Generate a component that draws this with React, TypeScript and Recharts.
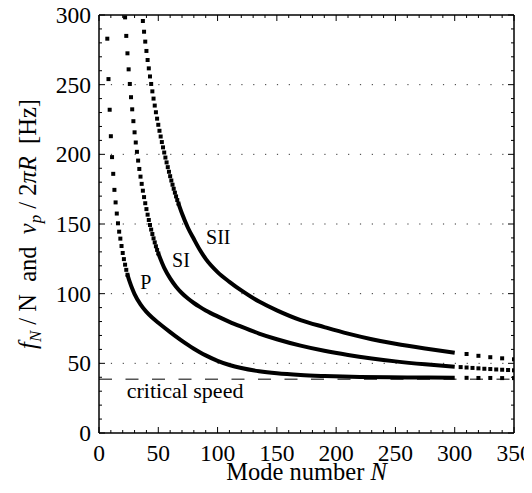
import React from "react";
import { ComposedChart, XAxis, YAxis, Scatter, Line, ReferenceLine, ReferenceDot } from "recharts";

const FONT = "'Liberation Serif', 'Times New Roman', 'DejaVu Serif', serif";

const xMajorTicks = [0, 50, 100, 150, 200, 250, 300, 350];
const xAllTicks = [0, 10, 20, 30, 40, 50, 60, 70, 80, 90, 100, 110, 120, 130, 140, 150, 160, 170, 180, 190, 200, 210, 220, 230, 240, 250, 260, 270, 280, 290, 300, 310, 320, 330, 340, 350];
const yMajorTicks = [0, 50, 100, 150, 200, 250, 300];
const yAllTicks = [0, 10, 20, 30, 40, 50, 60, 70, 80, 90, 100, 110, 120, 130, 140, 150, 160, 170, 180, 190, 200, 210, 220, 230, 240, 250, 260, 270, 280, 290, 300];
const gridLevels = [50, 100, 150, 200, 250];
const criticalSpeed = 38.5;

// P branch
const pDots: [number, number][] = [[7, 283], [8, 254], [9, 232], [10, 213], [11, 198], [12, 186], [13, 174.5], [14, 165.5], [15, 157.5], [16, 150.5], [17, 144.5], [18, 139.5], [19, 134.2], [20, 129.2], [21, 124.8], [22, 120.8], [23, 117.1], [24, 113.6]];
const pLine: [number, number][] = [[24, 113.6], [26, 108.3], [28, 103.7], [30, 99.7], [35, 92.3], [40, 86.9], [45, 82.7], [50, 79.1], [55, 75.7], [60, 72.4], [65, 69.2], [70, 66.1], [75, 63.2], [80, 60.5], [85, 58], [90, 55.7], [100, 51.8], [110, 48.8], [120, 46.6], [135, 44.3], [150, 42.8], [170, 41.6], [190, 40.9], [220, 40.2], [260, 39.9], [300, 39.7]];
const pTail: [number, number][] = [[310, 39.6], [320, 39.5], [330, 39.5], [340, 39.4], [350, 39.4]];

// SI branch
const siDots: [number, number][] = [[22, 298.3], [23, 285], [24, 272.5], [25, 261], [26, 250.5], [27, 241], [28, 232.3], [29, 223.8], [30, 215.8], [31, 208.5], [32, 201.8], [33, 195.5], [34, 189.5], [35, 184], [36, 178.8], [37, 173.9], [38, 169.3], [39, 164.9], [40, 160.7], [41, 156.7], [42, 152.9], [43, 149.3], [44, 146], [45, 142.8], [46, 139.7], [47, 136.8], [48, 134], [49, 131.4], [50, 128.9]];
const siLine: [number, number][] = [[50, 128.9], [55, 118.5], [60, 111], [65, 105], [70, 100.3], [75, 96.5], [80, 93.3], [85, 90.5], [90, 88], [100, 83.7], [110, 79.8], [120, 76.3], [135, 71.4], [150, 67.3], [170, 62.7], [190, 59], [210, 56], [230, 53.5], [250, 51.4], [275, 49.3], [300, 47.6]];
const siTail: [number, number][] = [[305, 47.3], [310, 47.0], [315, 46.7], [320, 46.4], [325, 46.1], [330, 45.9], [335, 45.6], [340, 45.4], [345, 45.2], [350, 45.0]];

// SII branch
const siiDots: [number, number][] = [[37, 295.7], [38, 288], [39, 280.9], [40, 274.2], [41, 267.7], [42, 261.7], [43, 255.9], [44, 250.5], [45, 245.2], [46, 240], [47, 235], [48, 230.2], [49, 225.6], [50, 221.2], [51, 216.9], [52, 212.8], [53, 208.8], [54, 205], [55, 201.3], [56, 197.7], [57, 194.2], [58, 190.8], [59, 187.5], [60, 184.3], [61, 181.2], [62, 178.2], [63, 175.3], [64, 172.5], [65, 169.8], [66, 167.2], [67, 164.7]];
const siiLine: [number, number][] = [[67, 164.7], [70, 157.5], [75, 147.3], [80, 139.2], [85, 131.5], [90, 125], [100, 115.5], [110, 108.5], [120, 102.3], [135, 94.3], [150, 88], [170, 81], [190, 76], [210, 71.3], [230, 67.3], [250, 64], [275, 60.6], [300, 57.6]];
const siiTail: [number, number][] = [[310, 56.7], [320, 55.4], [330, 54.4], [340, 53.6], [350, 52.9]];

const curveLabels: { text: string; n: number; v: number; size: number; anchor: string }[] = [
  { text: "P", n: 39.5, v: 103.4, size: 20, anchor: "middle" },
  { text: "SI", n: 69.1, v: 119.4, size: 20, anchor: "middle" },
  { text: "SII", n: 100.6, v: 135.6, size: 20, anchor: "middle" },
  { text: "critical speed", n: 23.4, v: 24.9, size: 22, anchor: "start" },
];

const toPts = (a: [number, number][]) => a.map(([n, v]) => ({ n, v }));

const Square = (props: any) => {
  const { cx, cy } = props;
  if (cx == null || cy == null) return null;
  return <rect x={cx - 2} y={cy - 2} width={4} height={4} fill="#000" />;
};

const isMajor = (v: number) => v % 50 === 0;

const BottomTick = (props: any) => {
  const { x, y, payload } = props;
  const v = payload.value;
  return (
    <g>
      <line x1={x} y1={y} x2={x} y2={y - (isMajor(v) ? 6 : 3)} stroke="#000" strokeWidth={1} />
      {xMajorTicks.includes(v) && (
        <text x={x} y={y + 27.5} textAnchor="middle" fontSize={23.5} fontFamily={FONT} fill="#000">{v}</text>
      )}
    </g>
  );
};
const TopTick = (props: any) => {
  const { x, y, payload } = props;
  const v = payload.value;
  return <line x1={x} y1={y} x2={x} y2={y + (isMajor(v) ? 6 : 3)} stroke="#000" strokeWidth={1} />;
};
const LeftTick = (props: any) => {
  const { x, y, payload } = props;
  const v = payload.value;
  return (
    <g>
      <line x1={x} y1={y} x2={x + (isMajor(v) ? 6 : 3)} y2={y} stroke="#000" strokeWidth={1} />
      {yMajorTicks.includes(v) && (
        <text x={x - 8} y={y + 8} textAnchor="end" fontSize={23.5} fontFamily={FONT} fill="#000">{v}</text>
      )}
    </g>
  );
};
const RightTick = (props: any) => {
  const { x, y, payload } = props;
  const v = payload.value;
  return <line x1={x} y1={y} x2={x - (isMajor(v) ? 6 : 3)} y2={y} stroke="#000" strokeWidth={1} />;
};

const XTitle = (props: any) => {
  const vb = props.viewBox || {};
  return (
    <text x={vb.x + vb.width / 2} y={vb.y + 47} textAnchor="middle" fontSize={24.5} fontFamily={FONT} fill="#000">
      Mode number <tspan fontStyle="italic">N</tspan>
    </text>
  );
};
const YTitle = (props: any) => {
  const vb = props.viewBox || {};
  const cx = vb.x + vb.width - 63;
  const cy = vb.y + vb.height / 2;
  return (
    <text x={cx} y={cy} transform={`rotate(-90, ${cx}, ${cy})`} textAnchor="middle" fontSize={24.5} fontFamily={FONT} fill="#000" style={{ whiteSpace: "pre" }} xmlSpace="preserve">
      <tspan fontStyle="italic">f</tspan>
      <tspan fontStyle="italic" fontSize={17} dy={5}>N</tspan>
      <tspan dy={-5}>{" / N  and  "}</tspan>
      <tspan fontStyle="italic">v</tspan>
      <tspan fontStyle="italic" fontSize={17} dy={5}>p</tspan>
      <tspan dy={-5}>{" / 2"}</tspan>
      <tspan fontStyle="italic">{"πR"}</tspan>
      <tspan>{"  [Hz]"}</tspan>
    </text>
  );
};

export default function App() {
  return (
    <div style={{ margin: -8 }}>
      <ComposedChart width={532} height={493} margin={{ top: 14, right: 17, bottom: 59, left: 98 }}>
        <XAxis xAxisId="b" type="number" dataKey="n" domain={[0, 350]} allowDataOverflow ticks={xAllTicks} interval={0}
          orientation="bottom" height={1} tickSize={0} tickMargin={0} tickLine={false}
          axisLine={{ stroke: "#000", strokeWidth: 1.5 }} tick={BottomTick} label={XTitle} />
        <XAxis xAxisId="t" type="number" dataKey="n" domain={[0, 350]} allowDataOverflow ticks={xAllTicks} interval={0}
          orientation="top" height={1} tickSize={0} tickMargin={0} tickLine={false}
          axisLine={{ stroke: "#000", strokeWidth: 1.5 }} tick={TopTick} />
        <YAxis yAxisId="l" type="number" dataKey="v" domain={[0, 300]} allowDataOverflow ticks={yAllTicks} interval={0}
          orientation="left" width={1} tickSize={0} tickMargin={0} tickLine={false}
          axisLine={{ stroke: "#000", strokeWidth: 1.5 }} tick={LeftTick} label={YTitle} />
        <YAxis yAxisId="r" type="number" dataKey="v" domain={[0, 300]} allowDataOverflow ticks={yAllTicks} interval={0}
          orientation="right" width={1} tickSize={0} tickMargin={0} tickLine={false}
          axisLine={{ stroke: "#000", strokeWidth: 1.5 }} tick={RightTick} />

        {gridLevels.map((g) => (
          <ReferenceLine key={g} xAxisId="b" yAxisId="l" y={g} stroke="#333" strokeWidth={1} strokeDasharray="1.2 10.66" />
        ))}
        <ReferenceLine xAxisId="b" yAxisId="l" y={criticalSpeed} stroke="#555" strokeWidth={1.5} strokeDasharray="13 13.5" />

        <Line xAxisId="b" yAxisId="l" data={toPts(pLine)} dataKey="v" type="monotone" stroke="#000" strokeWidth={4} dot={false} isAnimationActive={false} />
        <Line xAxisId="b" yAxisId="l" data={toPts(siLine)} dataKey="v" type="monotone" stroke="#000" strokeWidth={4} dot={false} isAnimationActive={false} />
        <Line xAxisId="b" yAxisId="l" data={toPts(siiLine)} dataKey="v" type="monotone" stroke="#000" strokeWidth={4} dot={false} isAnimationActive={false} />

        <Scatter xAxisId="b" yAxisId="l" data={toPts(pDots)} shape={Square} isAnimationActive={false} />
        <Scatter xAxisId="b" yAxisId="l" data={toPts(siDots)} shape={Square} isAnimationActive={false} />
        <Scatter xAxisId="b" yAxisId="l" data={toPts(siiDots)} shape={Square} isAnimationActive={false} />
        <Scatter xAxisId="b" yAxisId="l" data={toPts(pTail)} shape={Square} isAnimationActive={false} />
        <Scatter xAxisId="b" yAxisId="l" data={toPts(siTail)} shape={Square} isAnimationActive={false} />
        <Scatter xAxisId="b" yAxisId="l" data={toPts(siiTail)} shape={Square} isAnimationActive={false} />

        {curveLabels.map((l) => (
          <ReferenceDot key={l.text} xAxisId="b" yAxisId="l" x={l.n} y={l.v} r={0}
            shape={(p: any) => (
              <text x={p.cx} y={p.cy} textAnchor={l.anchor as any} fontSize={l.size} fontFamily={FONT} fill="#000">{l.text}</text>
            )} />
        ))}
      </ComposedChart>
    </div>
  );
}
